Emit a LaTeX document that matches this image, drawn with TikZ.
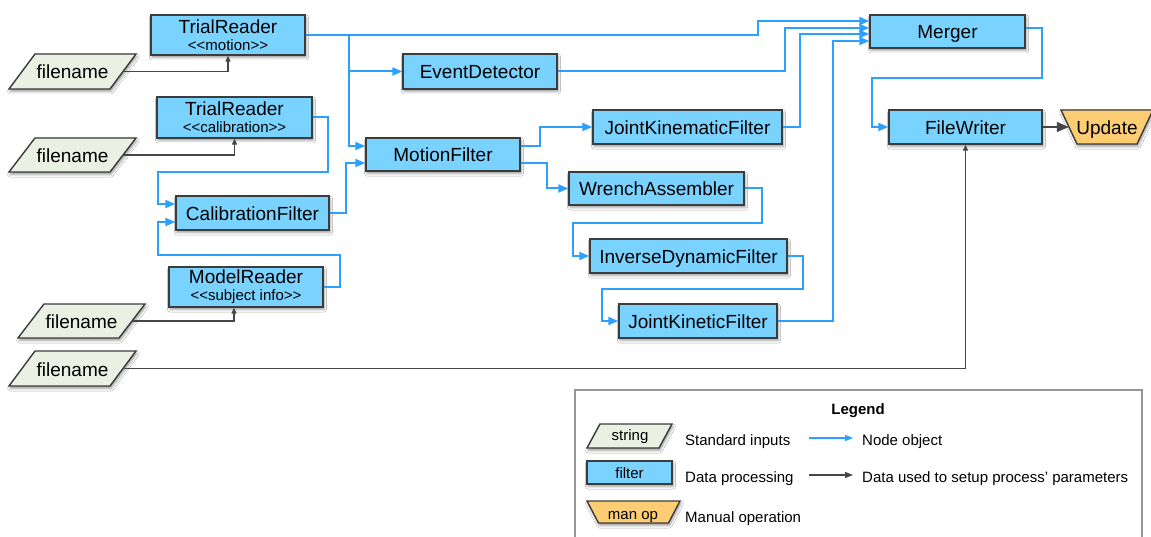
\documentclass[tikz,border=0pt]{standalone}
\usepackage{fontspec}
\newfontfamily\arialf{Liberation Sans}
\usetikzlibrary{arrows.meta,shadows.blur,calc}

\definecolor{boxblue}{RGB}{122,211,255}
\definecolor{edgegrey}{RGB}{60,60,60}
\definecolor{inputfill}{RGB}{234,240,226}
\definecolor{opfill}{RGB}{253,205,115}
\definecolor{flowblue}{RGB}{45,160,255}
\definecolor{setupgrey}{RGB}{70,70,70}
\definecolor{framegrey}{RGB}{150,150,150}

% parallelogram leaning right: centre x, centre y, mid half-width, half-height, half-slant, style
\newcommand\slantpath[6]{\path[#6] ({#1-#3-#5},{#2+#4}) -- ({#1+#3-#5},{#2+#4}) -- ({#1+#3+#5},{#2-#4}) -- ({#1-#3+#5},{#2-#4}) -- cycle;}
% trapezoid wide at the top: same arguments
\newcommand\trappath[6]{\path[#6] ({#1-#3-#5},{#2-#4}) -- ({#1+#3+#5},{#2-#4}) -- ({#1+#3-#5},{#2+#4}) -- ({#1-#3+#5},{#2+#4}) -- cycle;}

\tikzset{
  softshadow/.style={blur shadow={shadow xshift=1pt,shadow yshift=-2.5pt,shadow blur radius=2.5pt,shadow opacity=40}},
  bigfont/.style={font=\arialf\fontsize{19}{17}\selectfont},
  smallfont/.style={font=\arialf\fontsize{15}{17}\selectfont},
  filterbox/.style={rectangle, draw=edgegrey, line width=1.4pt, fill=boxblue, inner sep=0pt, softshadow, bigfont, align=center},
  single/.style={text height=15pt, text depth=0pt},
  inshape/.style={draw=edgegrey, line width=1.4pt, fill=inputfill, softshadow},
  opshape/.style={draw=edgegrey, line width=1.4pt, fill=opfill, softshadow},
  shapelabel/.style={rectangle, inner sep=0pt, bigfont, single},
  flowline/.style={draw=flowblue, line width=2pt, -{Triangle[length=10pt,width=8pt]}},
  setupline/.style={draw=setupgrey, line width=1.3pt, -{Triangle[length=6pt,width=5pt]}},
  legflow/.style={draw=flowblue, line width=1.3pt, -{Triangle[length=8pt,width=6pt]}},
  legsetup/.style={draw=setupgrey, line width=1.3pt, -{Triangle[length=8pt,width=6pt]}},
  legtext/.style={smallfont, anchor=base west, inner sep=0pt},
  leglabel/.style={smallfont, anchor=base, inner sep=0pt},
}

\begin{document}
\begin{tikzpicture}[x=1pt, y=-1pt]
\useasboundingbox (0,0) rectangle (1151,537);
\clip (0,0) rectangle (1151,537);
\fill[white] (0,0) rectangle (1151,537);

% ---- processing objects ----
\node[filterbox, minimum width=154pt, minimum height=40pt] (tr1) at (228,35) {TrialReader\\\fontsize{15}{17}\selectfont <<motion>>};
\node[filterbox, minimum width=155pt, minimum height=41pt] (tr2) at (234.5,117.5) {TrialReader\\\fontsize{15}{17}\selectfont <<calibration>>};
\node[filterbox, single, minimum width=153pt, minimum height=34pt] (calf) at (252.5,213) {CalibrationFilter};
\node[filterbox, minimum width=154pt, minimum height=40pt] (mr) at (246,287) {ModelReader\\\fontsize{15}{17}\selectfont <<subject info>>};
\node[filterbox, single, minimum width=154pt, minimum height=35pt] (ed) at (480,71.5) {EventDetector};
\node[filterbox, single, minimum width=154pt, minimum height=33pt] (mf) at (443,154.5) {MotionFilter};
\node[filterbox, single, minimum width=189pt, minimum height=34pt] (jkf) at (687.5,127) {JointKinematicFilter};
\node[filterbox, single, minimum width=175pt, minimum height=33pt] (wa) at (656.5,188.5) {WrenchAssembler};
\node[filterbox, single, minimum width=197pt, minimum height=34pt] (idf) at (688.5,256) {InverseDynamicFilter};
\node[filterbox, single, minimum width=158pt, minimum height=34pt] (jknf) at (698,321) {JointKineticFilter};
\node[filterbox, single, minimum width=155pt, minimum height=33pt] (merger) at (947.5,31.5) {Merger};
\node[filterbox, single, minimum width=153pt, minimum height=34pt] (fw) at (965.5,127) {FileWriter};

% ---- manual operation ----
\trappath{1107}{127}{38}{17}{8}{opshape}
\node[shapelabel, minimum width=76pt, minimum height=34pt] (upd) at (1107,127) {Update};

% ---- file name inputs ----
\slantpath{72.5}{71.5}{50.5}{17.5}{13}{inshape}
\node[shapelabel, minimum width=101pt, minimum height=35pt] (fn1) at (72.5,71.5) {filename};
\slantpath{72.5}{155}{50.5}{17}{13}{inshape}
\node[shapelabel, minimum width=101pt, minimum height=34pt] (fn2) at (72.5,155) {filename};
\slantpath{81.5}{321}{50.5}{17}{13}{inshape}
\node[shapelabel, minimum width=101pt, minimum height=34pt] (fn3) at (81.5,321) {filename};
\slantpath{72.5}{368.5}{50.5}{17.5}{13}{inshape}
\node[shapelabel, minimum width=101pt, minimum height=35pt] (fn4) at (72.5,368.5) {filename};

% ---- node object flow ----
\coordinate (tap) at ($(tr1.east)+(43,0)$);
\draw[flowline] (tr1.east) -- (758,35) |- ([yshift=10.5pt]merger.west);
\draw[flowline] (tap) |- (ed.west);
\draw[flowline] (tap) |- ([yshift=8.5pt]mf.west);
\draw[flowline] (calf.east) -- ++(16,0) |- ([yshift=-8.5pt]mf.west);
\draw[flowline] (tr2.east) -| (328,172) -- (158,172) |- ([yshift=9pt]calf.west);
\draw[flowline] (mr.east) -| (340,255) -- (158,255) |- ([yshift=-9pt]calf.west);
\draw[flowline] (ed.east) -- ++(227,0) |- ([yshift=3.5pt]merger.west);
\draw[flowline] ([yshift=8.5pt]mf.east) -- ++(19,0) |- (jkf.west);
\draw[flowline] ([yshift=-8.5pt]mf.east) -- ++(26,0) |- (wa.west);
\draw[flowline] (jkf.east) -- ++(17,0) |- ([yshift=-2.5pt]merger.west);
\draw[flowline] (wa.east) -| (762,223) -- (573,223) |- (idf.west);
\draw[flowline] (idf.east) -| (803,289) -- (602,289) |- (jknf.west);
\draw[flowline] (jknf.east) -- ++(55,0) |- ([yshift=-9.5pt]merger.west);
\draw[flowline] ([yshift=3.5pt]merger.east) -| (1042,78) -- (872,78) |- (fw.west);

% ---- parameter set-up ----
\draw[setupline] (fn1.east) -| (tr1.south);
\draw[setupline] (fn2.east) -| (tr2.south);
\draw[setupline] (fn3.east) -| ([xshift=-12pt]mr.south);
\draw[setupline] (fn4.east) -| (fw.south);
\draw[setupline, -{Triangle[length=12pt,width=10pt]}] (fw.east) -- (upd.west);

% ---- legend ----
\draw[draw=framegrey, line width=1.5pt] (575,390) rectangle (1142,560);
\node[font=\arialf\bfseries\fontsize{15}{17}\selectfont, anchor=base, inner sep=0pt] (legtitle) at (858,414) {Legend};

\slantpath{629.5}{436}{36}{12}{6.5}{inshape}
\node[leglabel] (lstring) at (630,440) {string};
\node[legtext] (linputs) at (685,445) {Standard inputs};
\coordinate (lfa) at (809,438);
\coordinate (lfb) at (853,438);
\draw[legflow] (lfa) -- (lfb);
\node[legtext] (lnode) at (862,445) {Node object};

\node[filterbox, smallfont, text height=11pt, text depth=0pt, minimum width=85pt, minimum height=23pt] (lfilter) at (629.5,472.5) {filter};
\node[legtext] (lproc) at (685,482) {Data processing};
\coordinate (lsa) at (809,475);
\coordinate (lsb) at (853,475);
\draw[legsetup] (lsa) -- (lsb);
\node[legtext] (lparam) at (862,482) {Data used to setup process’ parameters};

\trappath{633.5}{512}{40.75}{11}{5.75}{opshape}
\node[leglabel] (lman) at (633,519) {man op};
\node[legtext] (lmanual) at (685,522) {Manual operation};
\end{tikzpicture}
\end{document}
